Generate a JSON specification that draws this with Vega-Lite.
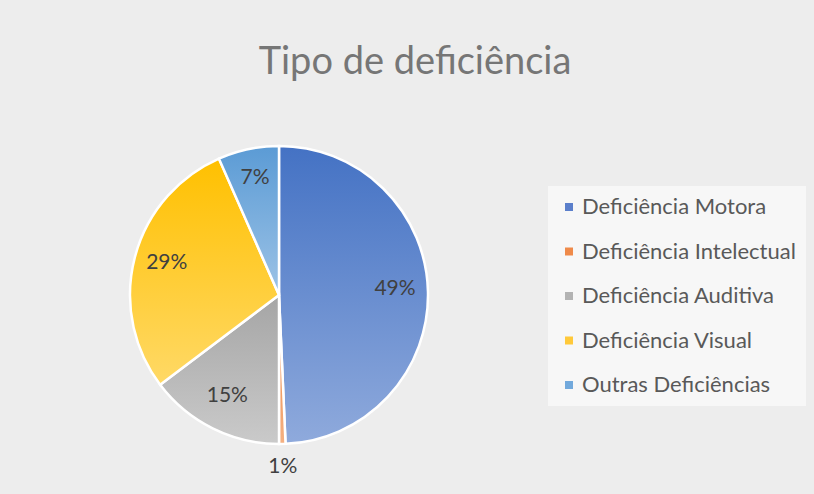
{
  "$schema": "https://vega.github.io/schema/vega-lite/v6.json",
  "width": 558,
  "height": 398,
  "autosize": {"type": "none"},
  "padding": {"left": 0, "top": 96, "right": 256, "bottom": 0},
  "background": "#EDEDED",
  "title": {
    "text": "Tipo de deficiência",
    "anchor": "middle",
    "frame": "group",
    "dx": 136,
    "dy": 37,
    "offset": 21,
    "baseline": "alphabetic",
    "font": "Lato",
    "fontSize": 38,
    "fontWeight": "normal",
    "color": "#767676"
  },
  "data": {
    "values": [
      {"tipo": "Deficiência Motora", "v": 0.493, "ordem": 1},
      {"tipo": "Deficiência Intelectual", "v": 0.007, "ordem": 2},
      {"tipo": "Deficiência Auditiva", "v": 0.147, "ordem": 3},
      {"tipo": "Deficiência Visual", "v": 0.287, "ordem": 4},
      {"tipo": "Outras Deficiências", "v": 0.066, "ordem": 5}
    ]
  },
  "encoding": {
    "theta": {"field": "v", "type": "quantitative", "stack": true},
    "order": {"field": "ordem", "type": "quantitative"}
  },
  "layer": [
    {
      "mark": {"type": "arc", "radius": 149},
      "encoding": {
        "color": {
          "field": "tipo",
          "type": "nominal",
          "sort": ["Deficiência Motora", "Deficiência Intelectual", "Deficiência Auditiva", "Deficiência Visual", "Outras Deficiências"],
          "scale": {
            "domain": ["Deficiência Motora", "Deficiência Intelectual", "Deficiência Auditiva", "Deficiência Visual", "Outras Deficiências"],
            "range": ["#5B7FCB", "#EF8A4A", "#B3B3B3", "#FFC93A", "#72A9DC"]
          },
          "legend": {
            "title": null,
            "orient": "none",
            "legendX": 548,
            "legendY": 90,
            "padding": 10,
            "fillColor": "#F7F7F7",
            "symbolType": "square",
            "symbolSize": 64,
            "symbolStrokeWidth": 0,
            "labelFont": "Lato",
            "labelFontSize": 22,
            "labelColor": "#595959",
            "labelOffset": 2,
            "rowPadding": 22.5,
            "labelLimit": 400
          }
        }
      }
    },
    {
      "mark": {"type": "arc", "radius": 149, "stroke": "#FFFFFF", "strokeWidth": 2.5},
      "encoding": {
        "fill": {
          "condition": [
            {"test": "datum.tipo === 'Deficiência Motora'", "value": {"gradient": "linear", "x1": 0, "y1": 0, "x2": 0, "y2": 1, "stops": [{"offset": 0, "color": "#4472C4"}, {"offset": 1, "color": "#8FAADC"}]}},
            {"test": "datum.tipo === 'Deficiência Intelectual'", "value": {"gradient": "linear", "x1": 0, "y1": 0, "x2": 0, "y2": 1, "stops": [{"offset": 0, "color": "#ED7D31"}, {"offset": 1, "color": "#F4B183"}]}},
            {"test": "datum.tipo === 'Deficiência Auditiva'", "value": {"gradient": "linear", "x1": 0, "y1": 0, "x2": 0, "y2": 1, "stops": [{"offset": 0, "color": "#A5A5A5"}, {"offset": 1, "color": "#CACACA"}]}},
            {"test": "datum.tipo === 'Deficiência Visual'", "value": {"gradient": "linear", "x1": 0, "y1": 0, "x2": 0, "y2": 1, "stops": [{"offset": 0, "color": "#FFC000"}, {"offset": 1, "color": "#FFD966"}]}}
          ],
          "value": {"gradient": "linear", "x1": 0, "y1": 0, "x2": 0, "y2": 1, "stops": [{"offset": 0, "color": "#5B9BD5"}, {"offset": 1, "color": "#9DC3E6"}]}
        }
      }
    },
    {
      "mark": {"type": "text", "radius": 116, "dy": -3, "font": "Lato", "fontSize": 21, "color": "#404040"},
      "encoding": {
        "text": {"field": "v", "type": "quantitative", "format": ".0%"},
        "opacity": {"condition": {"test": "datum.v < 0.02", "value": 0}, "value": 1}
      }
    },
    {
      "mark": {"type": "text", "radius": 172, "font": "Lato", "fontSize": 21, "color": "#404040"},
      "encoding": {
        "text": {"field": "v", "type": "quantitative", "format": ".0%"},
        "opacity": {"condition": {"test": "datum.v < 0.02", "value": 1}, "value": 0}
      }
    }
  ],
  "config": {"view": {"stroke": null}}
}
